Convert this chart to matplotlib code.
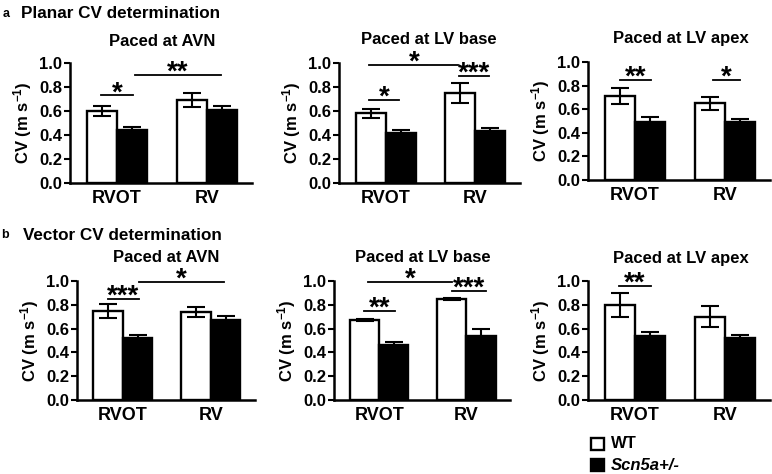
import matplotlib
matplotlib.use("Agg")
import matplotlib.pyplot as plt
from matplotlib.patches import Rectangle
import numpy as np

plt.rcParams['font.family'] = ['Liberation Sans', 'DejaVu Sans']
plt.rcParams['font.weight'] = 'bold'
plt.rcParams['mathtext.fontset'] = 'custom'
plt.rcParams['mathtext.rm'] = 'Liberation Sans:bold'
plt.rcParams['mathtext.bf'] = 'Liberation Sans:bold'
plt.rcParams['mathtext.default'] = 'bf'

# ---------------- data ----------------
categories = ['RVOT', 'RV']
titles = ['Paced at AVN', 'Paced at LV base', 'Paced at LV apex']
groups = ['WT', 'Scn5a+/-']

planar_wt_mean = [[0.60, 0.69], [0.58, 0.75], [0.71, 0.65]]
planar_wt_sem = [[0.04, 0.06], [0.04, 0.08], [0.07, 0.055]]
planar_ko_mean = [[0.44, 0.61], [0.42, 0.43], [0.49, 0.49]]
planar_ko_sem = [[0.03, 0.03], [0.02, 0.03], [0.04, 0.03]]

vector_wt_mean = [[0.75, 0.74], [0.67, 0.85], [0.80, 0.70]]
vector_wt_sem = [[0.06, 0.04], [0.01, 0.01], [0.10, 0.09]]
vector_ko_mean = [[0.52, 0.67], [0.46, 0.54], [0.54, 0.52]]
vector_ko_sem = [[0.03, 0.04], [0.03, 0.06], [0.03, 0.03]]

# significance brackets: (x start, x end, y, label)
planar_sig = [
    [(-0.18, 0.18, 0.73, '*'), (0.20, 1.16, 0.90, '**')],
    [(-0.19, 0.15, 0.69, '*'), (-0.18, 0.81, 0.985, '*'), (0.82, 1.15, 0.89, '***')],
    [(-0.17, 0.18, 0.845, '**'), (0.87, 1.17, 0.845, '*')],
]
vector_sig = [
    [(-0.17, 0.18, 0.85, '***'), (0.18, 1.15, 0.99, '*')],
    [(-0.17, 0.18, 0.75, '**'), (-0.13, 0.83, 0.99, '*'), (0.83, 1.23, 0.915, '***')],
    [(-0.18, 0.18, 0.96, '**')],
]

yticks = [0.0, 0.2, 0.4, 0.6, 0.8, 1.0]

# ---------------- layout (pixels) ----------------
W, H = 772, 474
fig = plt.figure(figsize=(W / 100, H / 100), dpi=100)


def px_axes(left, right, bottom, top):
    return fig.add_axes([left / W, 1 - bottom / H, (right - left) / W, (bottom - top) / H])


axes_px = [
    [(70, 252, 183, 63), (339, 520, 183, 63), (588, 770, 180, 62)],
    [(77, 255, 400, 281), (334, 510, 400, 281), (588, 770, 400, 281)],
]
title_px = [
    [(162, 41), (429, 39), (681, 38)],
    [(166, 257), (423, 257), (681, 258)],
]

rows = [
    (planar_wt_mean, planar_wt_sem, planar_ko_mean, planar_ko_sem, planar_sig),
    (vector_wt_mean, vector_wt_sem, vector_ko_mean, vector_ko_sem, vector_sig),
]

x = np.arange(len(categories))
bw = 0.335

for r, (wm, ws, km, ks, sig) in enumerate(rows):
    for c in range(3):
        ax = px_axes(*axes_px[r][c])
        ax.bar(x - bw / 2, wm[c], bw, color='white', edgecolor='black', linewidth=1.7, zorder=2)
        ax.bar(x + bw / 2, km[c], bw, color='black', edgecolor='black', linewidth=1.7, zorder=2)
        ax.errorbar(x - bw / 2, wm[c], yerr=ws[c], fmt='none', ecolor='black',
                    elinewidth=1.5, capsize=6.5, capthick=1.5, zorder=3)
        ax.errorbar(x + bw / 2, km[c], yerr=ks[c], fmt='none', ecolor='black',
                    elinewidth=1.5, capsize=6.5, capthick=1.5, zorder=3)
        for (x1, x2, yy, lab) in sig[c]:
            ax.plot([x1, x2], [yy, yy], color='black', lw=1.3, clip_on=False, zorder=4)
            ax.text((x1 + x2) / 2, yy - 0.09, lab, ha='center', va='bottom',
                    fontsize=20, fontweight='bold', clip_on=False)
        ax.set_xlim(-0.52, 1.5)
        ax.set_ylim(0, 1.0)
        ax.set_yticks(yticks)
        ax.set_yticklabels([f'{t:.1f}' for t in yticks], fontsize=12, fontweight='bold')
        ax.set_xticks(x)
        ax.set_xticklabels(categories, fontsize=13, fontweight='bold')
        ax.tick_params(axis='x', length=0, pad=5)
        ax.tick_params(axis='y', length=4, width=1.5, pad=1.5)
        for s in ['top', 'right']:
            ax.spines[s].set_visible(False)
        for s in ['left', 'bottom']:
            ax.spines[s].set_linewidth(1.8)
        ax.set_ylabel(r'CV (m s$^{-1}$)', fontsize=12, fontweight='bold', labelpad=4)
        tx, ty = title_px[r][c]
        fig.text(tx / W, 1 - ty / H, titles[c], ha='center', va='center',
                 fontsize=12, fontweight='bold')

# section headings
fig.text(3 / W, 1 - 14 / H, 'a', ha='left', va='center', fontsize=9, fontweight='bold')
fig.text(21 / W, 1 - 13 / H, 'Planar CV determination', ha='left', va='center',
         fontsize=12.3, fontweight='bold')
fig.text(1 / W, 1 - 235 / H, 'b', ha='left', va='center', fontsize=9, fontweight='bold')
fig.text(23 / W, 1 - 235 / H, 'Vector CV determination', ha='left', va='center',
         fontsize=12.3, fontweight='bold')

# legend (manual, pixel placed)
legend_face = ['white', 'black']
legend_y = [444, 465]
legend_style = ['normal', 'italic']
for g, fc, yc, st in zip(groups, legend_face, legend_y, legend_style):
    fig.patches.append(Rectangle((591 / W, 1 - (yc + 6) / H), 13 / W, 12 / H,
                                 facecolor=fc, edgecolor='black', linewidth=1.7,
                                 transform=fig.transFigure, figure=fig))
    fig.text(611 / W, 1 - yc / H, g, ha='left', va='center', fontsize=12,
             fontweight='bold', fontstyle=st)

fig.savefig('out.png', dpi=100)
